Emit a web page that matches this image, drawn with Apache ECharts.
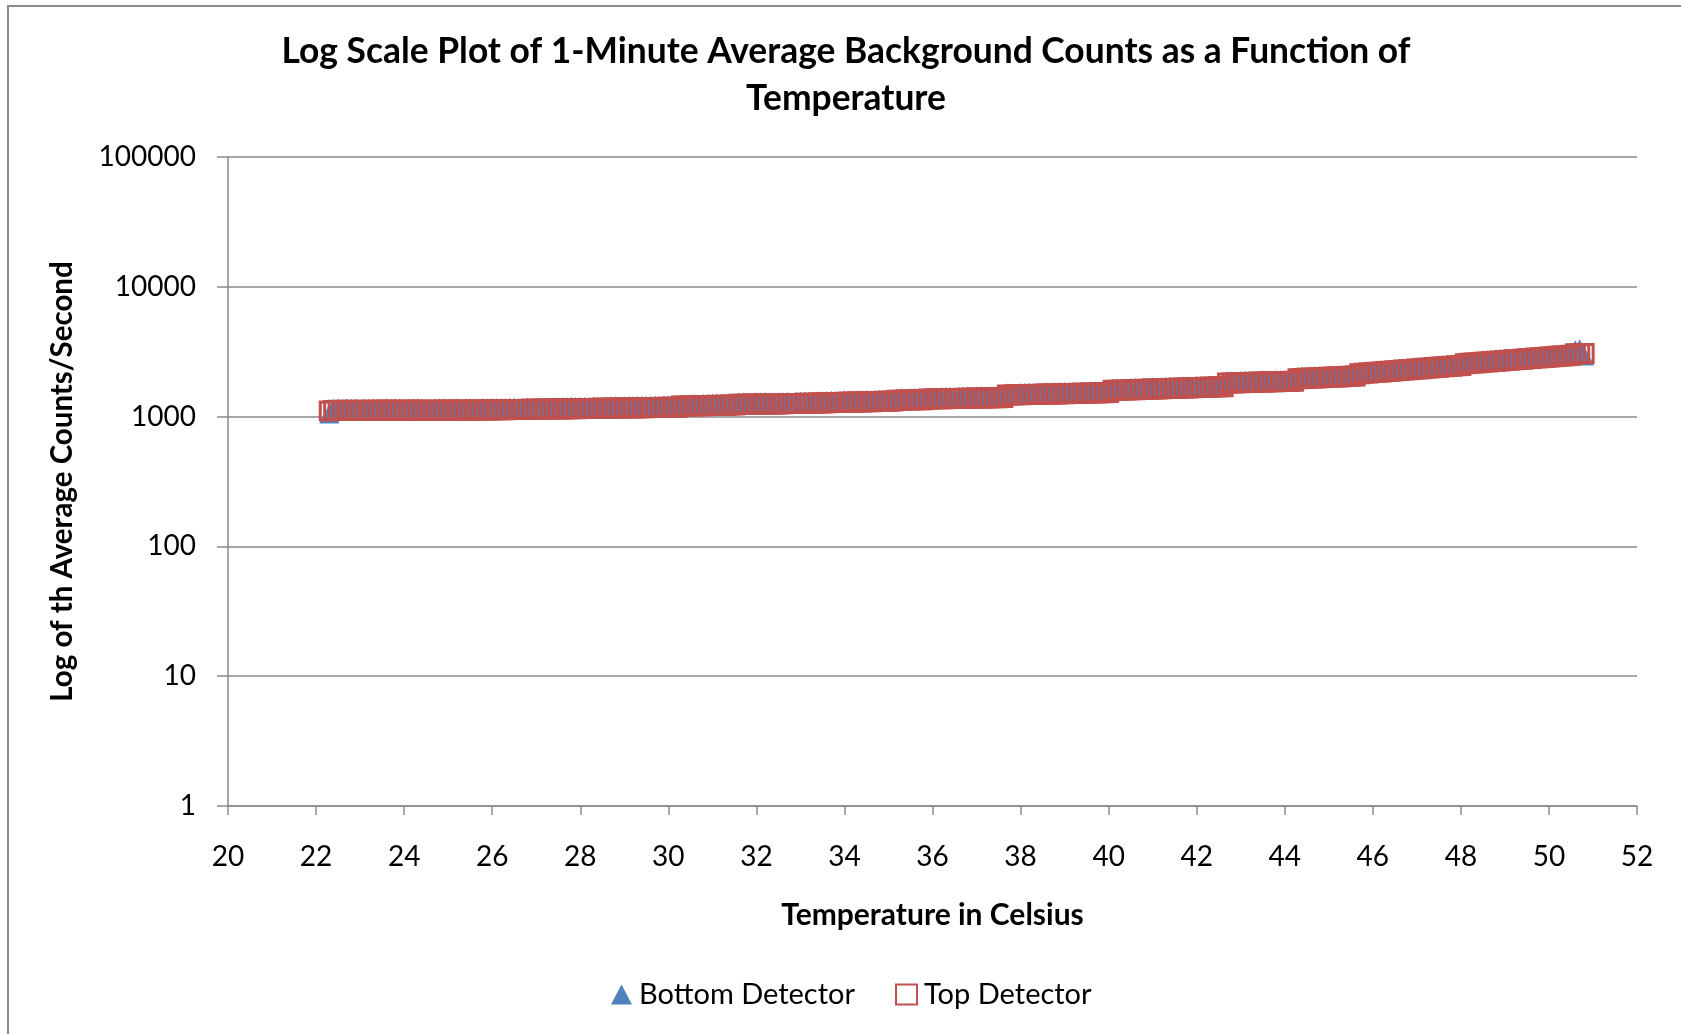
<!DOCTYPE html>
<html>
<head>
<meta charset="utf-8">
<script src="https://cdn.jsdelivr.net/npm/echarts@6/dist/echarts.min.js"></script>
<style>
html,body{margin:0;padding:0;background:#fff;}
#chart{width:1681px;height:1034px;}
</style>
</head>
<body>
<div id="chart"></div>
<script>
// Temperature (°C) of each 1-minute sample
const temps = [
  22.3,22.4,22.5,22.6,22.7,22.8,22.9,23.0,23.1,23.2,23.3,23.4,23.5,23.6,23.7,23.8,23.9,24.0,24.1,24.2,24.3,24.4,24.5,24.6,24.7,24.8,24.9,25.0,25.1,25.2,25.3,25.4,25.5,25.6,25.7,25.8,25.9,26.0,
  26.1,26.2,26.3,26.4,26.5,26.6,26.7,26.8,26.9,27.0,27.1,27.2,27.3,27.4,27.5,27.6,27.7,27.8,27.9,28.0,28.1,28.2,28.3,28.4,28.5,28.6,28.7,28.8,28.9,29.0,29.1,29.2,29.3,29.4,29.5,29.6,29.7,29.8,29.9,30.0,30.1,30.2,
  30.3,30.4,30.5,30.6,30.7,30.8,30.9,31.0,31.1,31.2,31.3,31.4,31.5,
  31.6,31.7,31.8,31.9,32.0,32.1,32.2,32.3,32.4,32.5,
  32.6,32.7,32.8,32.9,33.0,33.1,33.2,33.3,33.4,33.5,
  33.6,33.7,33.8,33.9,34.0,34.1,34.2,34.3,34.4,34.5,34.6,34.7,34.8,34.9,35.0,35.1,
  35.2,35.3,35.4,35.5,35.6,35.7,35.8,
  35.9,36.0,36.1,36.2,36.3,36.4,36.5,36.6,36.7,36.8,36.9,37.0,37.1,37.2,37.3,37.4,37.5,37.6,
  37.7,37.8,37.9,38.0,38.1,38.2,38.3,38.4,38.5,38.6,38.7,38.8,38.9,39.0,39.1,39.2,39.3,39.4,39.5,39.6,39.7,39.8,39.9,40.0,
  40.1,40.2,40.3,40.4,40.5,40.6,40.7,40.8,40.9,41.0,41.1,41.2,41.3,41.4,41.5,41.6,41.7,41.8,41.9,42.0,42.1,42.2,42.3,42.4,42.5,42.6,
  42.7,42.8,42.9,43.0,43.1,43.2,43.3,43.4,43.5,43.6,43.7,43.8,43.9,44.0,44.1,44.2,
  44.3,44.4,44.5,44.6,44.7,44.8,44.9,45.0,45.1,45.2,45.3,45.4,45.5,45.6,
  45.7,45.8,45.9,46.0,46.1,46.2,46.3,46.4,46.5,46.6,46.7,46.8,46.9,47.0,47.1,47.2,47.3,47.4,47.5,47.6,47.7,47.8,47.9,48.0,
  48.1,48.2,48.3,48.4,48.5,48.6,48.7,48.8,48.9,49.0,49.1,49.2,49.3,49.4,49.5,49.6,49.7,49.8,49.9,50.0,50.1,50.2,50.3,50.4,50.5,
  50.6,50.7,50.8
];

// Bottom Detector, average counts/second
const bottomCounts = [
  1045,1158,1165,1150,1168,1160,1163,1140,1166,1162,1158,1167,1161,1168,1135,1163,1166,1160,1167,1162,1169,1164,1138,1167,1166,1163,1170,1164,1167,1171,1142,1168,1172,1167,1171,1173,1169,1174,
  1174,1177,1175,1179,1181,1156,1183,1184,1186,1185,1188,1190,1166,1192,1195,1193,1197,1199,1197,1201,1203,1180,1205,1206,1208,1207,1210,1212,1188,1214,1217,1215,1219,1221,1219,1223,1225,1200,1227,1229,1228,1231,
  1255,1258,1257,1262,1238,1262,1266,1268,1271,1270,1248,1279,1282,
  1295,1298,1297,1271,1299,1302,1301,1303,1280,1304,
  1310,1312,1290,1314,1316,1317,1296,1320,1323,1324,
  1333,1336,1310,1339,1342,1344,1320,1349,1351,1354,1330,1359,1362,1340,1367,1370,
  1391,1394,1370,1398,1401,1378,1406,
  1422,1424,1400,1426,1430,1432,1410,1436,1438,1441,1420,1445,1447,1424,1452,1454,1432,1459,
  1526,1529,1505,1534,1537,1539,1515,1545,1547,1550,1525,1555,1558,1561,1538,1567,1570,1572,1548,1578,1581,1584,1560,1591,
  1658,1662,1640,1670,1674,1678,1652,1687,1691,1695,1670,1703,1708,1712,1688,1721,1725,1729,1705,1738,1742,1747,1722,1756,1760,1765,
  1889,1893,1868,1900,1904,1907,1880,1915,1919,1923,1895,1931,1935,1910,1942,1946,
  2038,2045,2020,2059,2066,2073,2048,2087,2095,2102,2075,2116,2124,2131,
  2226,2240,2215,2269,2284,2298,2270,2328,2342,2358,2340,2388,2402,2418,2395,2449,2465,2480,2455,2513,2528,2545,2520,2578,
  2657,2674,2650,2707,2724,2741,2720,2776,2792,2810,2790,2845,2863,2881,2860,2917,2936,2954,2935,2991,3010,3028,3005,3067,3086,
  3280,3330,2930
];

// Top Detector, average counts/second
const topCounts = [
  1105,1112,1118,1115,1120,1116,1119,1114,1121,1117,1115,1120,1118,1122,1116,1119,1121,1117,1120,1118,1122,1119,1116,1121,1120,1118,1123,1119,1121,1124,1120,1122,1125,1121,1124,1126,1123,1127,
  1128,1130,1129,1132,1134,1133,1136,1137,1139,1138,1141,1143,1142,1145,1147,1146,1149,1151,1150,1153,1155,1154,1157,1158,1160,1159,1162,1164,1163,1166,1168,1167,1170,1172,1171,1174,1176,1175,1178,1180,1179,1182,
  1205,1208,1207,1211,1213,1212,1216,1218,1221,1220,1225,1228,1231,
  1243,1246,1245,1248,1247,1250,1249,1251,1253,1252,
  1258,1260,1259,1262,1264,1265,1267,1268,1271,1272,
  1280,1283,1282,1286,1289,1291,1293,1296,1298,1301,1303,1306,1309,1311,1314,1317,
  1336,1339,1341,1343,1346,1348,1351,
  1366,1368,1371,1370,1374,1376,1378,1380,1382,1385,1387,1389,1391,1393,1396,1398,1400,1403,
  1466,1469,1472,1474,1477,1479,1482,1485,1487,1490,1493,1495,1498,1501,1504,1507,1510,1512,1515,1518,1521,1524,1527,1531,
  1593,1597,1601,1605,1609,1613,1617,1622,1626,1630,1634,1638,1643,1647,1651,1656,1660,1664,1669,1673,1677,1682,1686,1691,1695,1700,
  1814,1818,1821,1825,1829,1832,1836,1840,1844,1848,1852,1856,1860,1863,1867,1871,
  1958,1965,1972,1979,1986,1993,2000,2007,2015,2022,2029,2036,2044,2051,
  2140,2154,2168,2182,2196,2210,2224,2238,2252,2267,2281,2296,2310,2325,2340,2355,2370,2385,2400,2416,2431,2447,2463,2479,
  2555,2571,2587,2603,2619,2636,2652,2669,2685,2702,2719,2736,2753,2770,2788,2805,2823,2840,2858,2876,2894,2912,2930,2949,2967,
  3050,3056,3060
];

const yTicks = [1, 10, 100, 1000, 10000, 100000];
const xTicks = [20, 22, 24, 26, 28, 30, 32, 34, 36, 38, 40, 42, 44, 46, 48, 50, 52];

const titleText = 'Log Scale Plot of 1-Minute Average Background Counts as a Function of\nTemperature';
const xTitle = 'Temperature in Celsius';
const yTitle = 'Log of th Average Counts/Second';
const seriesNames = ['Bottom Detector', 'Top Detector'];

const FONT = 'Lato';
const BLUE = '#4F81BD';
const RED = '#C0504D';
const GRID = '#8a8a8a';

const bottomData = temps.map((t, i) => [t, bottomCounts[i]]);
const topData = temps.map((t, i) => [t, topCounts[i]]);

const chart = echarts.init(document.getElementById('chart'), null, { renderer: 'canvas' });
chart.setOption({
  animation: false,
  backgroundColor: '#fff',
  graphic: [{
    type: 'rect', silent: true, z: -10,
    shape: { x: 8, y: 6, width: 1700, height: 1060 },
    style: { fill: 'none', stroke: GRID, lineWidth: 2 }
  }],
  title: {
    text: titleText,
    left: 841, top: 23, textAlign: 'center',
    textStyle: { fontFamily: FONT, fontWeight: 'bold', fontSize: 35.4, lineHeight: 47, color: '#000' }
  },
  legend: {
    left: 611, top: 980, padding: 0,
    itemWidth: 21, itemHeight: 20, itemGap: 40,
    textStyle: { fontFamily: FONT, fontSize: 29, color: '#000', padding: [0, 0, 0, 2] },
    data: [
      { name: seriesNames[0], icon: 'triangle', itemStyle: { color: BLUE, borderWidth: 0 } },
      { name: seriesNames[1], icon: 'rect', itemStyle: { color: 'rgba(255,255,255,0)', borderColor: RED, borderWidth: 2 } }
    ]
  },
  grid: { left: 228, right: 44, top: 157, bottom: 228, containLabel: false },
  xAxis: {
    type: 'value', min: xTicks[0], max: xTicks[xTicks.length - 1], interval: 2,
    name: xTitle, nameLocation: 'middle', nameGap: 94,
    nameTextStyle: { fontFamily: FONT, fontWeight: 'bold', fontSize: 30, color: '#000' },
    axisLine: { show: true, lineStyle: { color: GRID, width: 1.5 } },
    axisTick: { show: true, length: 9, inside: false, lineStyle: { color: GRID, width: 1.5 } },
    splitLine: { show: false },
    axisLabel: { fontFamily: FONT, fontSize: 28, color: '#000', margin: 37, formatter: v => String(v) }
  },
  yAxis: {
    type: 'log', logBase: 10, min: yTicks[0], max: yTicks[yTicks.length - 1],
    name: yTitle, nameLocation: 'middle', nameGap: 151, nameRotate: 90,
    nameTextStyle: { fontFamily: FONT, fontWeight: 'bold', fontSize: 29.5, color: '#000' },
    axisLine: { show: true, lineStyle: { color: GRID, width: 1.5 } },
    axisTick: { show: true, length: 11, inside: false, lineStyle: { color: GRID, width: 1.5 } },
    splitLine: { show: true, lineStyle: { color: GRID, width: 1.5 } },
    minorTick: { show: false },
    axisLabel: { fontFamily: FONT, fontSize: 28, color: '#000', margin: 32, formatter: v => String(Math.round(v)) }
  },
  series: [
    {
      name: seriesNames[0], type: 'scatter', data: bottomData,
      symbol: 'triangle', symbolSize: [20, 19], z: 2,
      itemStyle: { color: BLUE, opacity: 1 }
    },
    {
      name: seriesNames[1], type: 'scatter', data: topData,
      symbol: 'rect', symbolSize: 18, z: 3,
      itemStyle: { color: 'rgba(255,255,255,0)', borderColor: RED, borderWidth: 3, opacity: 1 }
    }
  ]
});
</script>
</body>
</html>
